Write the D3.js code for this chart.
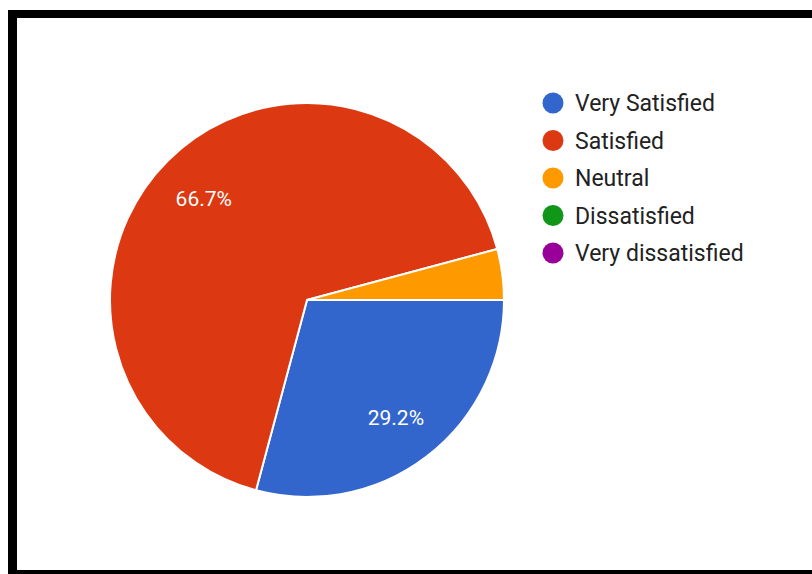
<!DOCTYPE html>
<html><head><meta charset="utf-8">
<script src="https://cdn.jsdelivr.net/npm/d3@7"></script>
<style>html,body{margin:0;padding:0;background:#fff;}svg{display:block;}</style>
</head><body>
<svg id="c" width="812" height="574"></svg>
<script>
const categories = ["Very Satisfied", "Satisfied", "Neutral", "Dissatisfied", "Very dissatisfied"];
const values = [7, 16, 1, 0, 0];
const colors = ["#3366cc", "#dc3912", "#ff9900", "#109618", "#990099"];

const svg = d3.select("#c");
// frame (top, left, bottom borders)
svg.append("rect").attr("x", 8).attr("y", 10).attr("width", 804).attr("height", 8).attr("fill", "#000");
svg.append("rect").attr("x", 8).attr("y", 10).attr("width", 9).attr("height", 564).attr("fill", "#000");
svg.append("rect").attr("x", 8).attr("y", 570).attr("width", 804).attr("height", 4).attr("fill", "#000");

const cx = 307, cy = 300, r = 197;
const total = d3.sum(values);
const pie = d3.pie().value(d => d).sort(null).startAngle(Math.PI / 2).endAngle(Math.PI / 2 + 2 * Math.PI);
const arcs = pie(values);
const arc = d3.arc().innerRadius(0).outerRadius(r);
const labelArc = d3.arc().innerRadius(146).outerRadius(146);
const color = d3.scaleOrdinal().domain(categories).range(colors);

const g = svg.append("g").attr("transform", `translate(${cx},${cy})`);
g.selectAll("path").data(arcs.filter(a => a.value > 0)).join("path")
  .attr("d", arc)
  .attr("fill", (d, i) => color(categories[d.index]))
  .attr("stroke", "#fff").attr("stroke-width", 2).attr("stroke-linejoin", "round");

g.selectAll("text.pl").data(arcs.filter(a => a.value / total > 0.1)).join("text")
  .attr("class", "pl")
  .attr("transform", d => `translate(${labelArc.centroid(d)})`)
  .attr("text-anchor", "middle").attr("dy", "0.42em")
  .attr("fill", "#fff").attr("font-family", "Roboto, Arial, sans-serif").attr("font-size", 21)
  .text(d => (d.value / total * 100).toFixed(1) + "%");

const ly = d3.scalePoint().domain(categories).range([103, 253]);
const lg = svg.append("g");
const items = lg.selectAll("g").data(categories).join("g")
  .attr("transform", d => `translate(553,${ly(d)})`);
items.append("circle").attr("r", 10.5).attr("fill", d => color(d));
items.append("text").attr("x", 22).attr("dy", "0.36em")
  .attr("font-family", "Roboto, Arial, sans-serif").attr("font-size", 23).attr("fill", "#222")
  .text(d => d);
</script>
</body></html>
